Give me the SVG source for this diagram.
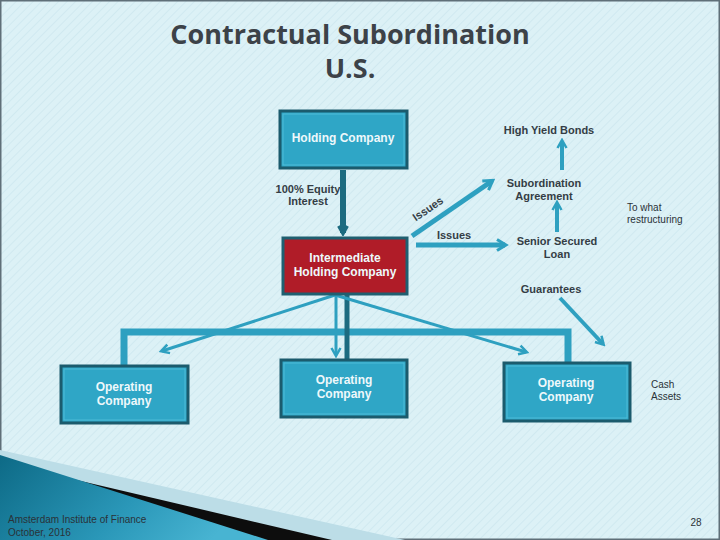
<svg xmlns="http://www.w3.org/2000/svg" width="720" height="540" viewBox="0 0 720 540">
<defs>
<pattern id="stripes" width="6" height="6" patternUnits="userSpaceOnUse" patternTransform="rotate(45)">
<rect width="6" height="6" fill="#dcf1f6"/>
<line x1="0" y1="0" x2="0" y2="6" stroke="#d0e9f0" stroke-width="2"/>
</pattern>
<linearGradient id="teal" x1="0" y1="0" x2="1" y2="0.3">
<stop offset="0" stop-color="#0d6a86"/>
<stop offset="0.6" stop-color="#2a97b8"/>
<stop offset="1" stop-color="#48b4d2"/>
</linearGradient>
<marker id="arr" viewBox="0 0 14 14" refX="10" refY="7" markerWidth="14" markerHeight="14" markerUnits="userSpaceOnUse" orient="auto">
<path d="M2,1.5 L11,7 L2,12.5" fill="none" stroke="#2ea0c0" stroke-width="3"/>
</marker>
<marker id="arrS" viewBox="0 0 12 12" refX="9" refY="6" markerWidth="12" markerHeight="12" markerUnits="userSpaceOnUse" orient="auto">
<path d="M2,1.5 L10,6 L2,10.5" fill="none" stroke="#2ea0c0" stroke-width="2.5"/>
</marker>
<marker id="arrD" viewBox="0 0 12 12" refX="9" refY="6" markerWidth="12" markerHeight="12" markerUnits="userSpaceOnUse" orient="auto">
<path d="M2,1.5 L10,6 L2,10.5" fill="none" stroke="#1c6b80" stroke-width="3"/>
</marker>
<style>
.box{fill:#2fa6c6;stroke:#1b5b6d;stroke-width:3}
.bev{fill:none;stroke:#4fbcd8;stroke-width:1}
.red{fill:#b01c28;stroke:#1f5f70;stroke-width:3}
.nt{font-family:"Liberation Sans",Arial,sans-serif;font-size:12px;font-weight:bold;fill:#eef8fb;text-anchor:middle}
.lb{font-family:"Liberation Sans",Arial,sans-serif;font-size:11px;font-weight:bold;fill:#343d45;text-anchor:middle}
.sm{font-family:"Liberation Sans",Arial,sans-serif;font-size:10px;fill:#2a3238}
.ln{stroke:#2ea0c0;fill:none}
.tt{font-family:"Open Sans","Liberation Sans",sans-serif;font-size:27px;font-weight:bold;fill:#3c4248;text-anchor:middle}
</style>
</defs>
<rect width="720" height="540" fill="url(#stripes)"/>
<rect x="0.75" y="0.75" width="718.5" height="538.5" fill="none" stroke="#5f6f78" stroke-width="1.5"/>
<g id="decor">
<path d="M0,450 L405,540 L0,540 Z" fill="#bcdde7"/>
<path d="M0,462 L332,540 L0,540 Z" fill="#0d0d0d"/>
<path d="M0,455 L268,540 L0,540 Z" fill="url(#teal)"/>
</g>
<g id="title">
<text class="tt" x="350" y="44">Contractual Subordination</text>
<text class="tt" x="350" y="78">U.S.</text>
</g>
<g id="connectors">
<polyline class="ln" points="124,365 124,332 568,332 568,362" stroke-width="7"/>
<line x1="343" y1="170" x2="343" y2="233" stroke="#1c6b80" stroke-width="6" marker-end="url(#arrD)"/>
<line x1="347" y1="295" x2="347" y2="359" stroke="#1c6b80" stroke-width="5"/>
<line class="ln" x1="335" y1="295" x2="162" y2="351" stroke-width="3" marker-end="url(#arrS)"/>
<line class="ln" x1="336" y1="295" x2="336" y2="355" stroke-width="3" marker-end="url(#arrS)"/>
<line class="ln" x1="335" y1="295" x2="526" y2="352" stroke-width="3" marker-end="url(#arrS)"/>
<line class="ln" x1="412" y1="236" x2="492" y2="181" stroke-width="5" marker-end="url(#arr)"/>
<line class="ln" x1="416" y1="245" x2="505" y2="245" stroke-width="5" marker-end="url(#arr)"/>
<line class="ln" x1="557" y1="232" x2="557" y2="203" stroke-width="4" marker-end="url(#arrS)"/>
<line class="ln" x1="562" y1="170" x2="562" y2="141" stroke-width="4" marker-end="url(#arrS)"/>
<line class="ln" x1="560" y1="298" x2="603" y2="344" stroke-width="4" marker-end="url(#arrS)"/>
</g>
<g id="holding">
<rect class="box" x="280" y="111" width="127" height="57"/>
<rect class="bev" x="283" y="114" width="121" height="51"/>
<text class="nt" x="343" y="142">Holding Company</text>
</g>
<g id="intermediate">
<rect class="red" x="283" y="238" width="124" height="56"/>
<text class="nt" x="345" y="262">Intermediate</text>
<text class="nt" x="345" y="276">Holding Company</text>
</g>
<g id="opco1">
<rect class="box" x="61" y="366" width="127" height="57"/>
<rect class="bev" x="64" y="369" width="121" height="51"/>
<text class="nt" x="124" y="391">Operating</text>
<text class="nt" x="124" y="405">Company</text>
</g>
<g id="opco2">
<rect class="box" x="281" y="360" width="126" height="57"/>
<rect class="bev" x="284" y="363" width="120" height="51"/>
<text class="nt" x="344" y="384">Operating</text>
<text class="nt" x="344" y="398">Company</text>
</g>
<g id="opco3">
<rect class="box" x="504" y="363" width="126" height="58"/>
<rect class="bev" x="507" y="366" width="120" height="52"/>
<text class="nt" x="566" y="387">Operating</text>
<text class="nt" x="566" y="401">Company</text>
</g>
<g id="labels">
<text class="lb" x="549" y="134">High Yield Bonds</text>
<text class="lb" x="544" y="187">Subordination</text>
<text class="lb" x="544" y="200">Agreement</text>
<text class="lb" x="557" y="245">Senior Secured</text>
<text class="lb" x="557" y="258">Loan</text>
<text class="lb" x="551" y="293">Guarantees</text>
<text class="lb" x="308" y="193" font-size="10">100% Equity</text>
<text class="lb" x="308" y="205" font-size="10">Interest</text>
<text class="lb" x="430" y="212" font-size="10" transform="rotate(-34 430 212)">Issues</text>
<text class="lb" x="454" y="239" font-size="10">Issues</text>
<text class="sm" x="627" y="211">To what</text>
<text class="sm" x="627" y="223">restructuring</text>
<text class="sm" x="651" y="388">Cash</text>
<text class="sm" x="651" y="400">Assets</text>
<text class="sm" x="8" y="523" fill="#1a1a1a">Amsterdam Institute of Finance</text>
<text class="sm" x="8" y="536" fill="#1a1a1a">October, 2016</text>
<text class="sm" x="696" y="526" fill="#111" text-anchor="middle">28</text>
</g>
</svg>
